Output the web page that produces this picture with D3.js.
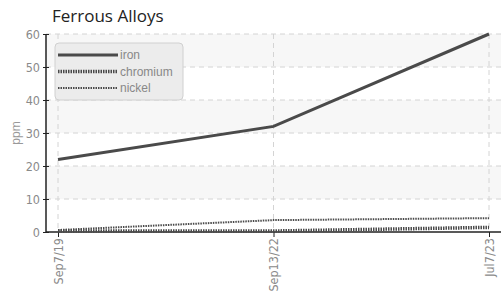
<!DOCTYPE html>
<html>
<head>
	<title>Ferrous Alloys</title>
	<script src="https://d3js.org/d3.v7.min.js" charset="utf-8"></script>
	<style>
		body { margin: 0; background: #fff; }
		.tick text { fill: #8a8a8a; font-family: "Liberation Sans Narrow", "DejaVu Sans Condensed", sans-serif; font-size: 12.5px; }
	</style>
</head>
<body>
<script type="text/javascript">
	var dates = ["Sep7/19", "Sep13/22", "Jul7/23"];
	var iron = [22, 32, 60];
	var chromium = [0.3, 0.3, 1.4];
	var nickel = [0.6, 3.6, 4.2];
	var yTicks = [0, 10, 20, 30, 40, 50, 60];

	var series = [
		{ name: "iron", values: iron, width: 3, dash: null },
		{ name: "chromium", values: chromium, width: 3.5, dash: "1.5,1" },
		{ name: "nickel", values: nickel, width: 2, dash: "1.5,1" }
	];

	var svgWidth = 501, svgHeight = 296;
	var axisX = 46, plotTop = 34, plotBottom = 232;

	var svg = d3.select("body").append("svg")
		.attr("width", svgWidth)
		.attr("height", svgHeight);

	var x = d3.scalePoint().domain(dates).range([58, 489]);
	var y = d3.scaleLinear().domain([0, 60]).range([plotBottom, plotTop]);

	// title
	svg.append("text")
		.attr("x", 52).attr("y", 22)
		.style("font-family", "'Open Sans', sans-serif")
		.style("font-size", "17px")
		.style("fill", "#222")
		.text("Ferrous Alloys");

	// alternating bands
	for (var i = 0; i < yTicks.length - 1; i++) {
		if (i % 2 == 1) {
			svg.append("rect")
				.attr("x", axisX).attr("y", y(yTicks[i + 1]))
				.attr("width", svgWidth - axisX)
				.attr("height", y(yTicks[i]) - y(yTicks[i + 1]))
				.style("fill", "#f7f7f7");
		}
	}

	// grid
	svg.selectAll(".hgrid").data(yTicks.slice(1)).enter().append("line")
		.attr("x1", axisX).attr("x2", svgWidth)
		.attr("y1", function(d) { return y(d); }).attr("y2", function(d) { return y(d); })
		.style("stroke", "#d4d4d4").style("stroke-dasharray", "5,4");
	svg.selectAll(".vgrid").data(dates).enter().append("line")
		.attr("x1", function(d) { return x(d); }).attr("x2", function(d) { return x(d); })
		.attr("y1", plotTop).attr("y2", plotBottom)
		.style("stroke", "#d4d4d4").style("stroke-dasharray", "5,4");

	// axes
	var yAxis = svg.append("g")
		.attr("transform", "translate(" + axisX + ",0)")
		.call(d3.axisLeft(y).tickValues(yTicks).tickSize(3).tickPadding(3));
	yAxis.select(".domain").remove();
	yAxis.append("line").attr("y1", plotTop).attr("y2", plotBottom).style("stroke", "#222").style("stroke-width", 1.5);
	yAxis.selectAll(".tick line").attr("x2", 3).attr("x1", -3).style("stroke", "#222");

	var xAxis = svg.append("g")
		.attr("transform", "translate(0," + plotBottom + ")")
		.call(d3.axisBottom(x).tickSize(5).tickPadding(6));
	xAxis.select(".domain").remove();
	xAxis.append("line").attr("x1", axisX).attr("x2", svgWidth).style("stroke", "#222").style("stroke-width", 1.5);
	xAxis.selectAll(".tick line").style("stroke", "#222");
	xAxis.selectAll(".tick text")
		.attr("transform", "rotate(-90)")
		.attr("x", -6).attr("y", 0).attr("dy", "0.35em")
		.style("text-anchor", "end");

	svg.append("text")
		.attr("transform", "translate(20,133) rotate(-90)")
		.style("text-anchor", "middle")
		.style("fill", "#999")
		.style("font-family", "'Liberation Sans Narrow', sans-serif")
		.style("font-size", "12px")
		.text("ppm");

	// lines
	var line = d3.line()
		.x(function(d, i) { return x(dates[i]); })
		.y(function(d) { return y(d); });

	series.slice().reverse().forEach(function(s) {
		svg.append("path")
			.datum(s.values)
			.attr("d", line)
			.style("fill", "none")
			.style("stroke", "#4a4a4a")
			.style("stroke-width", s.width)
			.style("stroke-dasharray", s.dash);
	});

	// legend
	var legend = svg.append("g").attr("transform", "translate(55,43)");
	legend.append("rect")
		.attr("width", 128).attr("height", 57).attr("rx", 4)
		.style("fill", "#ececec").style("stroke", "#d0d0d0");
	series.forEach(function(s, i) {
		var ly = 12 + i * 16.5;
		legend.append("line")
			.attr("x1", 3).attr("x2", 63).attr("y1", ly).attr("y2", ly)
			.style("stroke", "#4a4a4a")
			.style("stroke-width", s.width)
			.style("stroke-dasharray", s.dash);
		legend.append("text")
			.attr("x", 65).attr("y", ly).attr("dy", "0.35em")
			.style("fill", "#888")
			.style("font-family", "'Liberation Sans Narrow', sans-serif")
			.style("font-size", "12px")
			.text(s.name);
	});
</script>
</body>
</html>
